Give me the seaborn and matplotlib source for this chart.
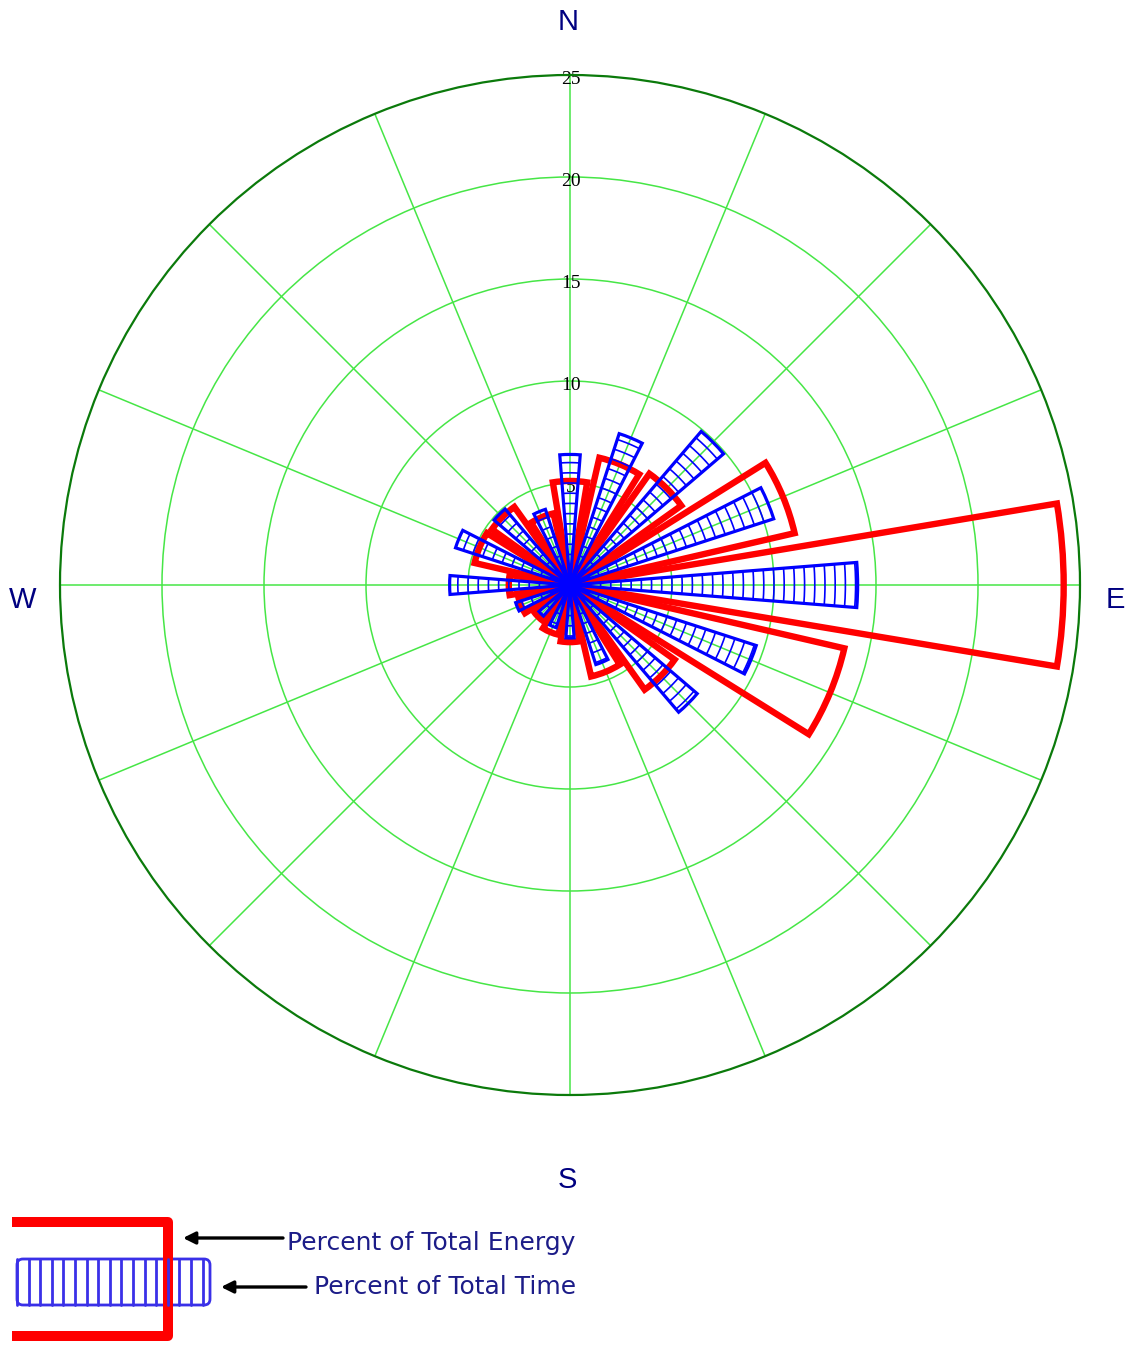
import numpy as np
import matplotlib
matplotlib.use("Agg")
import matplotlib.pyplot as plt
from matplotlib.patches import FancyBboxPatch
from matplotlib.transforms import offset_copy
import seaborn as sns

# Wind rose: percent of total energy and percent of total time per direction sector
directions = ["N", "NNE", "NE", "ENE", "E", "ESE", "SE", "SSE",
              "S", "SSW", "SW", "WSW", "W", "WNW", "NW", "NNW"]
energy_pct = [5.1, 6.4, 6.7, 11.3, 24.2, 13.8, 6.3, 4.6,
              2.8, 2.5, 2.2, 2.6, 3.0, 4.8, 4.7, 3.6]
time_pct = [6.4, 7.8, 9.9, 10.5, 14.1, 9.6, 8.2, 4.1,
            2.6, 2.2, 2.0, 2.8, 5.9, 5.9, 4.9, 3.9]
ring_values = [5, 10, 15, 20, 25]
ring_labels = ["5", "10", "15", "20", "25"]
compass_labels = ["N", "E", "S", "W"]
legend_labels = ["Percent of Total Energy", "Percent of Total Time"]

sns.set_theme(style="white")
plt.rcParams["font.family"] = ["Liberation Sans", "DejaVu Sans"]

W, H = 1128, 1345
fig = plt.figure(figsize=(W / 100, H / 100), dpi=100)
fig.patch.set_facecolor("white")

# polar axes: centre (570, 585) px, outer ring radius 510 px
cx, cy, R = 570, 585, 510
ax = fig.add_axes([(cx - R) / W, 1 - (cy + R) / H, 2 * R / W, 2 * R / H],
                  projection="polar")
ax.set_theta_zero_location("N")
ax.set_theta_direction(-1)
ax.set_ylim(0, ring_values[-1])
ax.set_facecolor("white")

theta = np.deg2rad(np.arange(len(directions)) * 360 / len(directions))
ax.set_xticks(theta)
ax.set_xticklabels([])
ax.set_yticks(ring_values[:-1])
ax.set_yticklabels([])
ax.grid(True, color="#46e646", linewidth=1.1)
ax.spines["polar"].set_color("#0b7a0b")
ax.spines["polar"].set_linewidth(1.6)

# ring value labels along the north spoke, centred on each ring
label_tr = offset_copy(ax.transData, fig=fig, x=1, y=-5, units="dots")
for v, lab in zip(ring_values, ring_labels):
    ax.text(0, v, lab, ha="center", va="center", fontsize=14,
            family=["Liberation Serif", "DejaVu Serif"], color="black",
            zorder=2, transform=label_tr)

# energy sectors (wide red outlines)
ax.bar(theta, energy_pct, width=np.deg2rad(19), bottom=0,
       facecolor="none", edgecolor="#ff0000", linewidth=4.6, zorder=3)

# time sectors (narrow blue ladders)
blue = "#0000ff"
half_w = np.deg2rad(9) / 2
ax.bar(theta, time_pct, width=2 * half_w, bottom=0,
       facecolor="none", edgecolor=blue, linewidth=2.3, zorder=4)
for t, v in zip(theta, time_pct):
    for r in np.arange(0.5, v, 0.5):
        ax.plot(np.linspace(t - half_w, t + half_w, 6), np.full(6, r),
                color=blue, linewidth=1.2, zorder=4)

# compass labels
navy = "#000080"
fig.text(568 / W, 1 - 22 / H, compass_labels[0], ha="center", va="center",
         fontsize=21, color=navy)
fig.text(1115 / W, 1 - 600 / H, compass_labels[1], ha="center", va="center",
         fontsize=21, color=navy)
fig.text(567 / W, 1 - 1180 / H, compass_labels[2], ha="center", va="center",
         fontsize=21, color=navy)
fig.text(23 / W, 1 - 600 / H, compass_labels[3], ha="center", va="center",
         fontsize=21, color=navy)

# legend drawn in pixel coordinates
lax = fig.add_axes([0, 0, 1, 1])
lax.set_xlim(0, W)
lax.set_ylim(H, 0)
lax.axis("off")

lax.plot([12, 168, 168, 12], [1222, 1222, 1336, 1336], color="#ff0000",
         linewidth=7.2, solid_joinstyle="round", solid_capstyle="butt")

lblue = "#3a30e8"
lax.add_patch(FancyBboxPatch((17, 1259), 193, 46,
                             boxstyle="round,pad=0,rounding_size=6",
                             facecolor="none", edgecolor=lblue, linewidth=2.0))
for x in np.arange(17, 208, 11.6):
    lax.plot([x, x], [1259, 1305], color=lblue, linewidth=2.0)

lax.annotate("", xy=(183, 1238), xytext=(283, 1238),
             arrowprops=dict(arrowstyle="-|>", color="black", lw=2.4,
                             mutation_scale=18, shrinkA=0, shrinkB=0))
lax.annotate("", xy=(221, 1287), xytext=(306, 1287),
             arrowprops=dict(arrowstyle="-|>", color="black", lw=2.4,
                             mutation_scale=18, shrinkA=0, shrinkB=0))

text_col = "#1c1c88"
lax.text(287, 1243, legend_labels[0], ha="left", va="center",
         fontsize=18, color=text_col, family="DejaVu Sans")
lax.text(314, 1287, legend_labels[1], ha="left", va="center",
         fontsize=18, color=text_col, family="DejaVu Sans")

fig.savefig("out.png", dpi=100)
